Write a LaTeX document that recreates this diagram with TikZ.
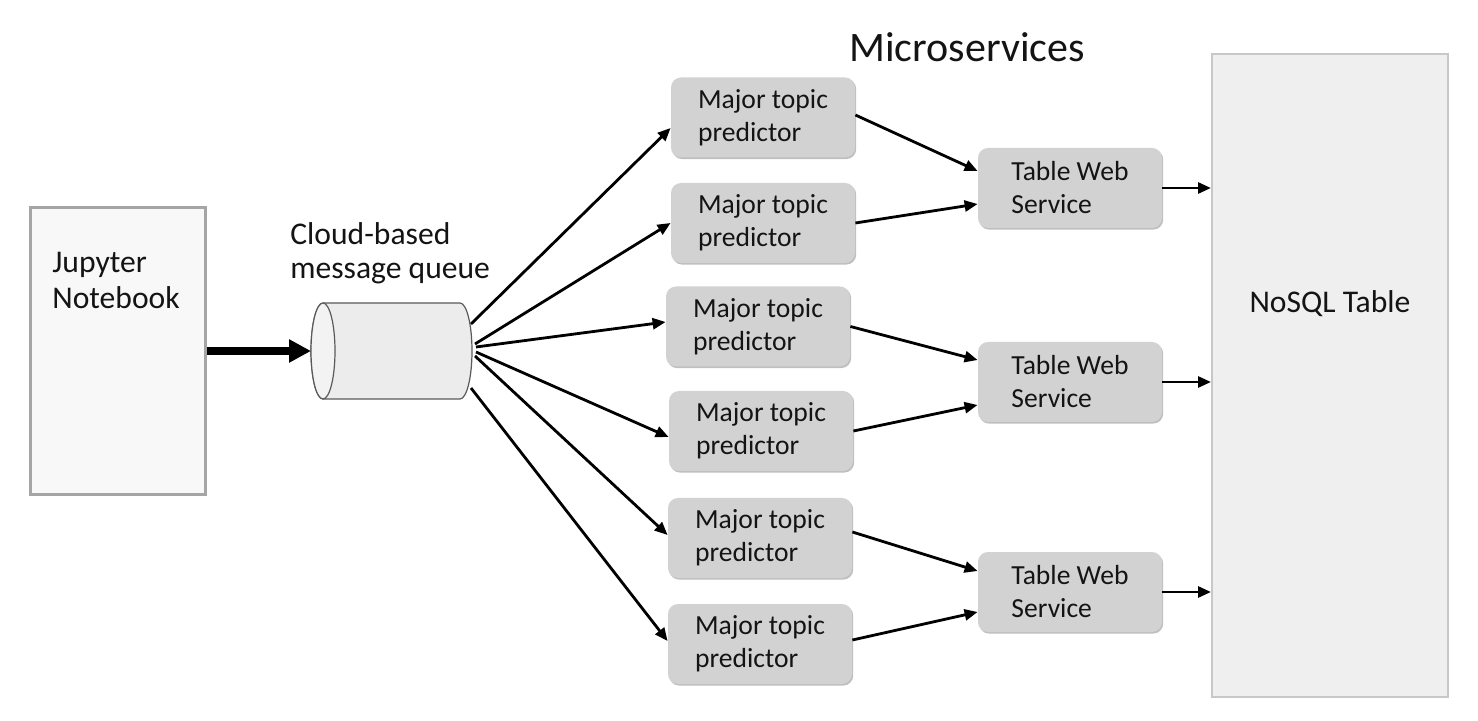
\documentclass[tikz,border=0pt]{standalone}
\usepackage{fontspec}
\setmainfont{Carlito}
\usetikzlibrary{arrows.meta,shadows}
\definecolor{boxgray}{RGB}{210,210,210}
\definecolor{txt}{RGB}{20,20,20}
\definecolor{nosqlfill}{RGB}{239,239,239}
\definecolor{nosqlline}{RGB}{200,200,200}
\definecolor{jupfill}{RGB}{248,248,248}
\definecolor{jupline}{RGB}{165,165,165}
\definecolor{cylbody}{RGB}{236,236,236}
\definecolor{cylface}{RGB}{243,243,243}
\definecolor{cylline}{RGB}{90,90,90}
\begin{document}
\begin{tikzpicture}[x=0.5pt,y=-0.5pt,
  svcbox/.style={rectangle, rounded corners=5pt, fill=boxgray, draw=none,
    minimum width=92pt, minimum height=40pt, inner sep=0pt, align=left,
    text=txt, font=\fontsize{13.8}{16.5}\selectfont,
    drop shadow={shadow xshift=0.6pt, shadow yshift=-0.8pt, opacity=0.25, fill=black}},
  arr/.style={line width=1.4pt, -{Triangle[length=6.5pt,width=5.5pt]}},
  bigarr/.style={line width=4pt, -{Triangle[length=11pt,width=11pt]}},
  lbl/.style={text=txt, align=left, inner sep=0pt, font=\fontsize{15.8}{17}\selectfont}
]
\useasboundingbox (0,0) rectangle (1478,721);
\fill[white] (0,0) rectangle (1478,721);

% Jupyter
\node[draw=jupline, line width=1.5pt, fill=jupfill, minimum width=87.5pt, minimum height=143.5pt, inner sep=0pt] (jup) at (117.5,351.5) {};
\node[lbl, anchor=west, font=\fontsize{15.8}{18}\selectfont] (juptxt) at (52,280) {Jupyter\\Notebook};

% NoSQL
\node[draw=nosqlline, line width=1pt, fill=nosqlfill, minimum width=118pt, minimum height=321.5pt, inner sep=0pt] (nosql) at (1330,375.5) {};
\node[lbl, anchor=center] (nosqltxt) at (1330,304) {NoSQL Table};

% title
\node[text=txt, inner sep=0pt, font=\fontsize{21}{24}\selectfont] (title) at (967,47) {Microservices};

% message queue
\node[lbl, anchor=west] (mqtxt) at (290,253) {Cloud-based\\message queue};
\node[minimum width=80.5pt, minimum height=48pt, inner sep=0pt] (mq) at (391.5,351) {};
\path[fill=cylbody, draw=cylline, line width=0.6pt] (323,303) -- (460,303)
  arc[start angle=90, end angle=-90, x radius=6pt, y radius=24pt] -- (323,399)
  arc[start angle=270, end angle=90, x radius=6pt, y radius=24pt] -- cycle;
\draw[fill=cylface, draw=cylline, line width=0.6pt] (323,351) ellipse[x radius=6pt, y radius=24pt];
\coordinate (q1) at (471,324);
\coordinate (q2) at (475,344);
\coordinate (q3) at (476,347);
\coordinate (q4) at (476,352);
\coordinate (q5) at (475,356);
\coordinate (q6) at (471,388);
\coordinate (qin) at (311,351);

% predictors
\node[svcbox] (p1) at (763,117.5) {Major topic\\predictor};
\node[svcbox] (p2) at (763,223) {Major topic\\predictor};
\node[svcbox] (p3) at (758,326.5) {Major topic\\predictor};
\node[svcbox] (p4) at (761,431) {Major topic\\predictor};
\node[svcbox] (p5) at (760,538) {Major topic\\predictor};
\node[svcbox] (p6) at (760,644) {Major topic\\predictor};

% table web services
\node[svcbox] (t1) at (1070,188) {Table Web\\Service};
\node[svcbox] (t2) at (1070,382) {Table Web\\Service};
\node[svcbox] (t3) at (1070,592) {Table Web\\Service};

% connectors
\draw[bigarr] (jup.east |- qin) -- (qin);

\draw[arr] (q1) -- ([yshift=-5.25pt]p1.west);
\draw[arr] (q2) -- (p2.west);
\draw[arr] (q3) -- ([yshift=2.25pt]p3.west);
\draw[arr] (q4) -- ([yshift=-3pt]p4.west);
\draw[arr] (q5) -- ([yshift=1.5pt]p5.west);
\draw[arr] (q6) -- ([yshift=1.5pt]p6.west);

\draw[arr] ([yshift=1.25pt]p1.east) -- ([yshift=8.5pt]t1.west);
\draw[arr] (p2.east) -- ([yshift=-8pt]t1.west);
\draw[arr] (p3.east) -- ([yshift=11pt]t2.west);
\draw[arr] (p4.east) -- ([yshift=-11.5pt]t2.west);
\draw[arr] ([yshift=3pt]p5.east) -- ([yshift=10.5pt]t3.west);
\draw[arr] ([yshift=2pt]p6.east) -- ([yshift=-10pt]t3.west);

\draw[arr] (t1.east) -- (t1.east -| nosql.west);
\draw[arr] (t2.east) -- (t2.east -| nosql.west);
\draw[arr] (t3.east) -- (t3.east -| nosql.west);
\end{tikzpicture}
\end{document}
